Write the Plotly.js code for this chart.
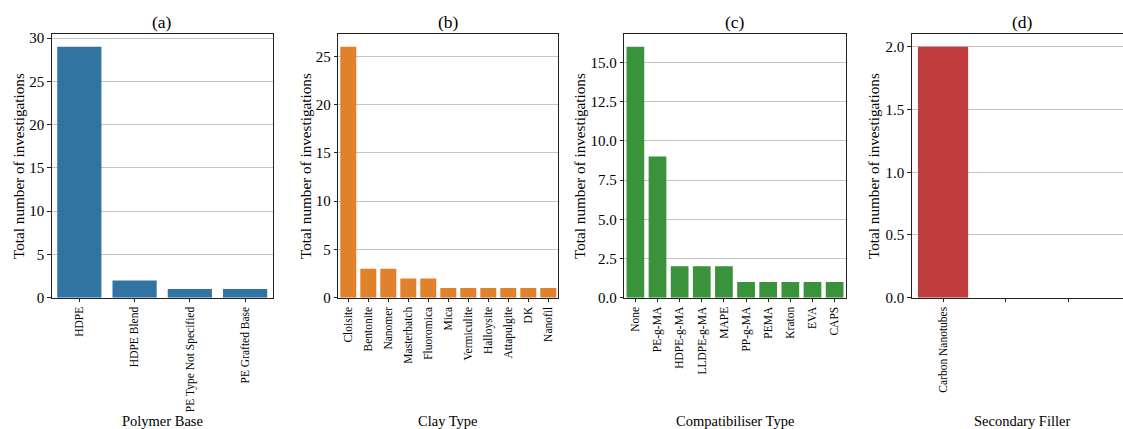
<!DOCTYPE html>
<html>
<head>
<meta charset="utf-8">
<script src="https://cdn.plot.ly/plotly-3.0.1.min.js"></script>
<style>
  html, body { margin: 0; padding: 0; background: #fff; overflow: hidden; }
  #chart { width: 1123px; height: 429px; }
</style>
</head>
<body>
<div id="chart"></div>
<script>
// Polymer base counts
const polymerBase = ["HDPE", "HDPE Blend", "PE Type Not Specified", "PE Grafted Base"];
const polymerCounts = [29, 2, 1, 1];

// Clay type counts
const clayType = ["Cloisite", "Bentonite", "Nanomer", "Masterbatch", "Fluoromica", "Mica",
                  "Vermiculite", "Halloysite", "Attapulgite", "DK", "Nanofil"];
const clayCounts = [26, 3, 3, 2, 2, 1, 1, 1, 1, 1, 1];

// Compatibiliser type counts
const compatType = ["None", "PE-g-MA", "HDPE-g-MA", "LLDPE-g-MA", "MAPE", "PP-g-MA",
                    "PEMA", "Kraton", "EVA", "CAPS"];
const compatCounts = [16, 9, 2, 2, 2, 1, 1, 1, 1, 1];

// Secondary filler counts (axis keeps two unlabeled slots)
const fillerType = ["Carbon Nanotubes"];
const fillerCounts = [2];
const fillerTickLabels = ["Carbon Nanotubes", "", ""];

const yTitle = "Total number of investigations";
const xTitles = ["Polymer Base", "Clay Type", "Compatibiliser Type", "Secondary Filler"];
const panelTitles = ["(a)", "(b)", "(c)", "(d)"];

const colors = ["#3274a1", "#e1812c", "#3a923a", "#c03d3e"];
const FONT = "Liberation Serif";
const W = 1123, H = 429;

// panel pixel boxes and y-title x positions
const panels = [
  { x0: 51.7,  x1: 272.7, ymax: 30.45, dtick: 5,   fmt: "d",   xr: [-0.5, 3.5],    ty: 18 },
  { x0: 338.3, x1: 558.3, ymax: 27.3,  dtick: 5,   fmt: "d",   xr: [-0.5, 10.5],   ty: 305 },
  { x0: 624.3, x1: 845.7, ymax: 16.8,  dtick: 2.5, fmt: ".1f", xr: [-0.5, 9.5],    ty: 579 },
  { x0: 911.7, x1: 1122.5, ymax: 2.1,  dtick: 0.5, fmt: ".1f", xr: [-0.5, 2.862],  ty: 873 }
];
const yTop = 34.3, yBot = 297.7;
const yDomain = [(H - yBot) / H, (H - yTop) / H];

const seriesCats = [polymerBase, clayType, compatType, fillerType];
const seriesVals = [polymerCounts, clayCounts, compatCounts, fillerCounts];
const tickLabels = [polymerBase, clayType, compatType, fillerTickLabels];

const data = [];
const layout = {
  width: W, height: H,
  margin: { l: 0, r: 0, t: 0, b: 0 },
  paper_bgcolor: "#fff", plot_bgcolor: "#fff",
  showlegend: false,
  bargap: 0.2,
  font: { family: FONT, color: "#000" },
  annotations: []
};

panels.forEach((p, i) => {
  const n = i + 1;
  const xa = "x" + (n === 1 ? "" : n), ya = "y" + (n === 1 ? "" : n);
  const xk = "xaxis" + (n === 1 ? "" : n), yk = "yaxis" + (n === 1 ? "" : n);
  const cats = seriesCats[i];
  data.push({
    type: "bar",
    x: cats.map((_, k) => k),
    y: seriesVals[i],
    text: cats,
    hoverinfo: "text+y",
    textposition: "none",
    marker: { color: colors[i], line: { width: 0 } },
    xaxis: xa, yaxis: ya
  });
  const labels = tickLabels[i];
  layout[xk] = {
    domain: [p.x0 / W, p.x1 / W],
    anchor: ya,
    range: p.xr,
    tickmode: "array",
    tickvals: labels.map((_, k) => k),
    ticktext: labels,
    tickangle: -90,
    tickfont: { family: FONT, size: 11.5, color: "#000" },
    ticks: "outside", ticklen: 3.5, tickwidth: 1, tickcolor: "#222",
    showline: true, linecolor: "#222", linewidth: 1, mirror: true,
    showgrid: false, zeroline: false, fixedrange: true
  };
  layout[yk] = {
    domain: yDomain,
    anchor: xa,
    range: [0, p.ymax],
    dtick: p.dtick, tick0: 0,
    tickformat: p.fmt,
    tickfont: { family: FONT, size: 15, color: "#000" },
    ticks: "outside", ticklen: 3.5, tickwidth: 1, tickcolor: "#222",
    showline: true, linecolor: "#222", linewidth: 1, mirror: i < 3,
    showgrid: true, gridcolor: "#c4c4c4", gridwidth: 1,
    zeroline: false, fixedrange: true
  };
  const cx = (p.x0 + (i === 3 ? 1132.7 : p.x1)) / 2 / W;
  // panel letter
  layout.annotations.push({
    text: panelTitles[i], xref: "paper", yref: "paper",
    x: cx, y: (H - 21.5) / H, xanchor: "center", yanchor: "middle",
    showarrow: false, font: { family: FONT, size: 17.5, color: "#000" }
  });
  // x-axis title
  layout.annotations.push({
    text: xTitles[i], xref: "paper", yref: "paper",
    x: cx, y: (H - 421) / H, xanchor: "center", yanchor: "middle",
    showarrow: false, font: { family: FONT, size: 14.5, color: "#000" }
  });
  // y-axis title
  layout.annotations.push({
    text: yTitle, xref: "paper", yref: "paper",
    x: p.ty / W, y: (H - (yTop + yBot) / 2) / H, xanchor: "center", yanchor: "middle",
    textangle: -90,
    showarrow: false, font: { family: FONT, size: 15.2, color: "#000" }
  });
});

Plotly.newPlot("chart", data, layout, { displayModeBar: false, staticPlot: true });
</script>
</body>
</html>
